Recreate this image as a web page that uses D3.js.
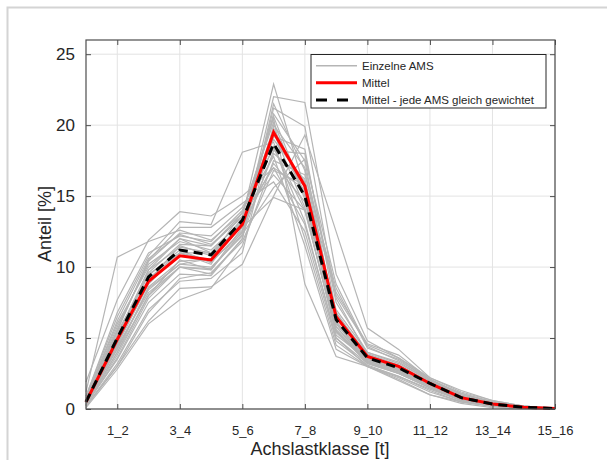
<!DOCTYPE html>
<html><head><meta charset="utf-8">
<script src="https://cdn.jsdelivr.net/npm/d3@7"></script>
<style>
html,body{margin:0;padding:0;background:#fff;}
svg{display:block;font-family:Arial,"Liberation Sans",Helvetica,sans-serif;}
</style></head>
<body>
<svg id="chart" width="607" height="460"></svg>
<script>
const categories = ["0_1","1_2","2_3","3_4","4_5","5_6","6_7","7_8","8_9","9_10","10_11","11_12","12_13","13_14","14_15","15_16"];
const tickLabels = ["1_2","3_4","5_6","7_8","9_10","11_12","13_14","15_16"];
const yTicks = [0,5,10,15,20,25];

const mittel = [0.5,4.9,9.0,10.8,10.5,13.0,19.5,15.7,6.5,3.7,3.0,1.8,0.8,0.35,0.12,0.03];
const mittelGleich = [0.5,5.0,9.3,11.2,10.85,13.3,18.7,15.0,6.3,3.6,2.9,1.8,0.8,0.35,0.12,0.03];

const s01 = [1.2,10.7,11.8,12.6,11.9,13.8,16.5,14.0,5.5,3.2,2.5,1.5,0.6,0.2,0.05,0.0];
const s02 = [0.4,4.5,8.8,11.0,10.2,13.5,22.9,15.5,5.8,3.3,2.6,1.6,0.7,0.3,0.1,0.0];
const s03 = [0.3,4.0,8.0,10.0,9.8,12.5,22.0,21.6,9.5,4.8,3.6,2.1,1.0,0.5,0.15,0.05];
const s04 = [0.9,6.5,10.8,13.2,13.0,18.1,18.8,12.0,4.5,3.0,2.2,1.2,0.5,0.2,0.05,0.0];
const s05 = [0.8,6.0,10.0,12.0,11.5,13.8,20.5,8.8,3.7,3.0,2.1,1.0,0.4,0.1,0.0,0.0];
const s06 = [0.2,3.0,6.2,8.5,8.6,10.2,15.0,19.3,12.5,5.7,4.2,2.2,1.3,0.6,0.2,0.05];
const s07 = [0.1,2.8,6.0,7.7,8.5,11.5,17.5,16.5,8.5,4.3,3.5,2.0,1.1,0.5,0.2,0.05];
const s08 = [1.9,7.7,11.9,13.9,13.6,15.0,17.0,13.0,5.0,3.0,2.0,1.0,0.5,0.2,0.05,0.0];
const s09 = [0.6,5.5,10.5,12.8,12.8,14.5,16.0,12.5,4.8,3.1,2.3,1.4,0.6,0.2,0.1,0.0];
const s10 = [0.5,5.2,9.8,12.0,11.0,12.8,14.9,14.0,7.0,4.0,3.2,2.0,0.9,0.4,0.1,0.0];
const s11 = [0.4,4.8,9.0,11.5,10.8,13.0,20.8,17.5,6.0,3.5,2.8,1.8,0.8,0.3,0.1,0.0];
const s12 = [0.3,3.5,7.5,9.5,9.4,12.0,21.2,19.9,7.8,3.8,3.0,1.9,0.9,0.4,0.15,0.05];
const s13 = [0.7,5.8,10.2,11.8,11.2,13.2,19.8,15.2,5.5,3.4,2.7,1.7,0.7,0.3,0.1,0.0];
const s14 = [0.5,4.2,8.5,10.2,10.0,12.2,18.2,18.0,7.5,4.0,3.3,2.0,0.9,0.4,0.12,0.03];
const s15 = [0.6,5.0,9.5,11.0,10.5,13.0,19.5,14.2,5.2,3.5,2.8,1.7,0.8,0.3,0.1,0.0];
const s16 = [0.2,3.2,7.0,9.0,9.2,11.0,20.0,17.0,8.0,4.5,3.6,2.2,1.2,0.6,0.2,0.05];
const s17 = [0.9,6.8,11.0,12.2,11.8,14.0,17.8,11.5,4.2,3.0,2.3,1.3,0.5,0.2,0.05,0.0];
const s18 = [0.5,4.6,9.2,11.0,11.0,13.4,19.0,16.0,6.5,3.6,2.9,1.8,0.8,0.35,0.1,0.0];
const s19 = [0.4,4.4,8.2,10.0,9.5,12.0,21.5,16.8,6.2,3.5,2.8,1.8,0.8,0.3,0.1,0.0];
const s20 = [0.6,5.2,9.6,11.6,11.5,13.6,17.0,15.5,6.8,3.8,3.0,1.9,0.9,0.4,0.1,0.0];
const s21 = [0.3,3.8,8.0,10.5,9.8,12.8,19.2,18.3,6.8,3.6,2.9,1.8,0.8,0.3,0.1,0.0];
const s22 = [0.8,6.2,10.6,12.3,11.6,13.5,18.5,13.2,5.0,3.2,2.5,1.5,0.6,0.2,0.05,0.0];
const s23 = [0.4,4.0,8.6,10.4,10.6,13.9,20.2,14.8,5.6,3.3,2.6,1.6,0.7,0.3,0.1,0.0];
const s24 = [0.6,5.4,9.4,11.2,10.3,12.6,18.0,16.2,6.6,3.9,3.1,1.9,0.9,0.4,0.12,0.03];
const s25 = [0.2,3.0,6.8,9.2,9.6,11.8,16.8,15.8,8.2,4.6,3.8,2.1,1.0,0.5,0.2,0.05];
const s26 = [0.5,4.7,9.0,10.8,10.4,12.4,19.6,15.6,6.0,3.4,2.7,1.7,0.8,0.3,0.1,0.0];
const s27 = [0.7,5.6,10.4,12.4,12.2,14.2,18.4,14.0,5.4,3.3,2.5,1.5,0.6,0.25,0.05,0.0];
const s28 = [0.4,4.3,8.4,10.2,10.6,13.2,20.6,15.0,5.8,3.4,2.7,1.6,0.7,0.3,0.1,0.0];
const s29 = [0.3,3.6,7.8,10.0,9.9,12.3,15.6,17.6,8.8,4.4,3.4,2.1,1.1,0.5,0.2,0.05];
const s30 = [0.6,5.0,9.8,11.4,11.0,12.9,17.3,14.6,6.1,3.6,2.9,1.8,0.8,0.35,0.1,0.0];
const einzelne = [s01,s02,s03,s04,s05,s06,s07,s08,s09,s10,s11,s12,s13,s14,s15,s16,s17,s18,s19,s20,s21,s22,s23,s24,s25,s26,s27,s28,s29,s30];

const legendLabels = ["Einzelne AMS","Mittel","Mittel - jede AMS gleich gewichtet"];

const svg = d3.select("#chart");
const L = 86, R = 555, T = 40, B = 409;
const x = d3.scalePoint().domain(categories).range([L, R]).padding(0);
const y = d3.scaleLinear().domain([0, 26]).range([B, T]);

// figure frame
svg.append("path").attr("d", `M7.5,460 L7.5,7.5 L607,7.5`).attr("fill","none").attr("stroke","#d4d4d4").attr("stroke-width",2);

// grid
const grid = svg.append("g");
grid.selectAll("line.gy").data(yTicks).join("line")
  .attr("x1", L).attr("x2", R).attr("y1", d => y(d)).attr("y2", d => y(d))
  .attr("stroke", "#e3e3e3").attr("stroke-width", 1);
grid.selectAll("line.gx").data(tickLabels).join("line")
  .attr("x1", d => x(d)).attr("x2", d => x(d)).attr("y1", T).attr("y2", B)
  .attr("stroke", "#e3e3e3").attr("stroke-width", 1);

// lines
const line = d3.line().x((d, i) => x(categories[i])).y(d => y(d));
svg.append("g").selectAll("path").data(einzelne).join("path")
  .attr("d", line).attr("fill", "none").attr("stroke", "#b5b5b5").attr("stroke-width", 1.2);
svg.append("path").datum(mittel).attr("d", line).attr("fill","none")
  .attr("stroke","#ff0000").attr("stroke-width",3).attr("stroke-linejoin","miter");
svg.append("path").datum(mittelGleich).attr("d", line).attr("fill","none")
  .attr("stroke","#000").attr("stroke-width",3).attr("stroke-dasharray","9,6");

// axes
const axCol = "#4d4d4d";
const yAxis = d3.axisLeft(y).tickValues(yTicks).tickSizeInner(-5).tickSizeOuter(0).tickPadding(11);
const gy = svg.append("g").attr("transform", `translate(${L},0)`).call(yAxis);
gy.select(".domain").remove();
gy.selectAll(".tick line").attr("stroke", axCol);
gy.selectAll(".tick text").attr("font-size", 17).attr("fill", "#262626").attr("font-family","Arial,'Liberation Sans',sans-serif");

const yAxisR = d3.axisRight(y).tickValues(yTicks).tickSizeInner(-5).tickSizeOuter(0).tickFormat("");
const gyr = svg.append("g").attr("transform", `translate(${R},0)`).call(yAxisR);
gyr.select(".domain").remove();
gyr.selectAll(".tick line").attr("stroke", axCol);

const xAxis = d3.axisBottom(x).tickValues(tickLabels).tickSizeInner(-5).tickSizeOuter(0).tickPadding(17);
const gx = svg.append("g").attr("transform", `translate(0,${B})`).call(xAxis);
gx.select(".domain").remove();
gx.selectAll(".tick line").attr("stroke", axCol);
gx.selectAll(".tick text").attr("font-size", 13).attr("fill", "#262626").attr("font-family","Arial,'Liberation Sans',sans-serif");

const xAxisT = d3.axisTop(x).tickValues(tickLabels).tickSizeInner(-5).tickSizeOuter(0).tickFormat("");
const gxt = svg.append("g").attr("transform", `translate(0,${T})`).call(xAxisT);
gxt.select(".domain").remove();
gxt.selectAll(".tick line").attr("stroke", axCol);

// box
svg.append("rect").attr("x", L).attr("y", T).attr("width", R - L).attr("height", B - T)
  .attr("fill","none").attr("stroke", axCol).attr("stroke-width",1.2);

// axis labels
svg.append("text").attr("x", 320).attr("y", 455).attr("text-anchor","middle")
  .attr("font-size",18).attr("fill","#262626").text("Achslastklasse [t]");
svg.append("text").attr("transform","translate(51,224) rotate(-90)").attr("text-anchor","middle")
  .attr("font-size",18).attr("fill","#262626").text("Anteil [%]");

// legend
const lg = svg.append("g");
lg.append("rect").attr("x",311).attr("y",54.5).attr("width",235).attr("height",53.5)
  .attr("fill","#fff").attr("stroke","#262626").attr("stroke-width",1);
const legStyles = [
  {c:"#b5b5b5", w:1.5, d:null},
  {c:"#ff0000", w:3, d:null},
  {c:"#000", w:3, d:"11,10"}
];
const legY = [65.7, 82.7, 100];
legendLabels.forEach((t, i) => {
  const ln = lg.append("line").attr("x1",316).attr("x2",357).attr("y1",legY[i]).attr("y2",legY[i])
    .attr("stroke",legStyles[i].c).attr("stroke-width",legStyles[i].w);
  if (legStyles[i].d) ln.attr("stroke-dasharray", legStyles[i].d);
  lg.append("text").attr("x",362).attr("y",legY[i]).attr("dy","0.35em")
    .attr("font-size",11.5).attr("fill","#262626").text(t);
});
</script>
</body></html>
